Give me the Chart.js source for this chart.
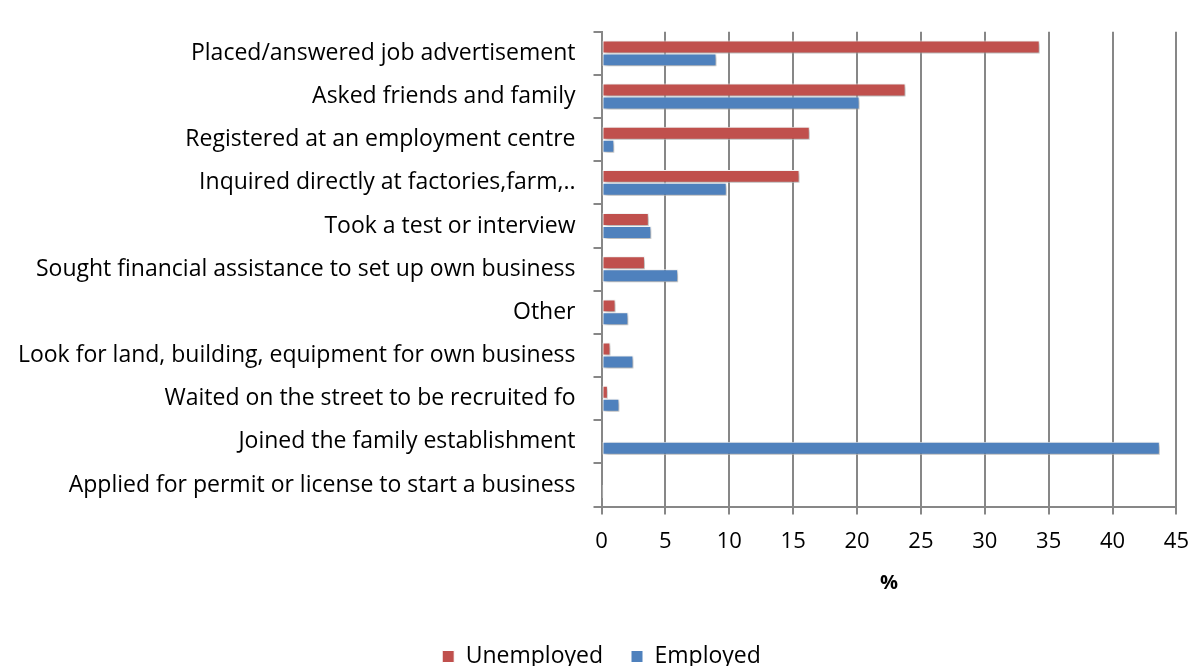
<!DOCTYPE html>
<html>
<head>
<meta charset="utf-8">
<title>Job search methods</title>
<script src="https://cdn.jsdelivr.net/npm/chart.js@4.4.1/dist/chart.umd.min.js"></script>
<style>
  html, body { margin: 0; padding: 0; background: #fff; overflow: hidden; }
  /* un poco más grande que la ventana: el margen extra del eje y de la leyenda queda fuera */
  #wrap { width: 1203px; height: 678px; position: relative; }
</style>
</head>
<body>
<div id="wrap"><canvas id="metodos"></canvas></div>
<script>
const categorias = [
    'Placed/answered job advertisement',
    'Asked friends and family',
    'Registered at an employment centre',
    'Inquired directly at factories,farm,..',
    'Took a test or interview',
    'Sought financial assistance to set up own business',
    'Other',
    'Look for land, building, equipment for own business',
    'Waited on the street to be recruited fo',
    'Joined the family establishment',
    'Applied for permit or license to start a business'
];
const desempleados = [34.3, 23.8, 16.3, 15.5, 3.7, 3.4, 1.1, 0.7, 0.5, 0, 0];
const empleados = [9.0, 20.2, 1.0, 9.8, 3.9, 6.0, 2.1, 2.5, 1.4, 43.7, 0.15];
const ticksX = [0, 5, 10, 15, 20, 25, 30, 35, 40, 45];

const fuente = "'Open Sans', sans-serif";
const gris = '#878787';

// sombra suave debajo de las barras
const sombra = {
    id: 'sombra',
    beforeDatasetsDraw(chart) {
        const c = chart.ctx;
        c.save();
        c.shadowColor = 'rgba(0,0,0,0.35)';
        c.shadowBlur = 4;
        c.shadowOffsetX = 2;
        c.shadowOffsetY = 2;
    },
    afterDatasetsDraw(chart) {
        chart.ctx.restore();
    }
};

const ctx = document.getElementById('metodos').getContext('2d');
const chart = new Chart(ctx, {
    type: 'bar',
    data: {
        labels: categorias,
        datasets: [{
            label: 'Unemployed',
            data: desempleados,
            backgroundColor: '#c0504d',
            borderColor: '#ffffff',
            borderWidth: 1,
            borderSkipped: false
        }, {
            label: 'Employed',
            data: empleados,
            backgroundColor: '#4f81bd',
            borderColor: '#ffffff',
            borderWidth: 1,
            borderSkipped: false
        }]
    },
    options: {
        indexAxis: 'y',
        responsive: true,
        maintainAspectRatio: false,
        animation: false,
        datasets: {
            bar: { categoryPercentage: 0.6, barPercentage: 1.0 }
        },
        layout: { padding: { top: 7, left: 0, right: 0, bottom: 0 } },
        scales: {
            x: {
                min: 0,
                max: 45,
                afterBuildTicks(axis) {
                    axis.ticks = ticksX.map(v => ({ value: v }));
                },
                grid: { color: gris, lineWidth: 2, tickLength: 8 },
                border: { color: gris, width: 2 },
                ticks: { color: '#000', font: { family: fuente, size: 22 }, padding: 14 },
                title: {
                    display: true,
                    text: '%',
                    color: '#000',
                    font: { family: fuente, size: 20, weight: 'bold' },
                    padding: { top: 2, bottom: 22 }
                }
            },
            y: {
                grid: { drawOnChartArea: false, color: gris, lineWidth: 2, tickLength: 8 },
                border: { color: gris, width: 2 },
                ticks: { color: '#000', font: { family: fuente, size: 23 }, padding: 18, autoSkip: false }
            }
        },
        plugins: {
            legend: {
                position: 'bottom',
                labels: {
                    color: '#000',
                    font: { family: fuente, size: 23 },
                    boxWidth: 12,
                    boxHeight: 12,
                    padding: 28
                }
            },
            tooltip: { enabled: false }
        }
    },
    plugins: [sombra]
});
</script>
</body>
</html>
